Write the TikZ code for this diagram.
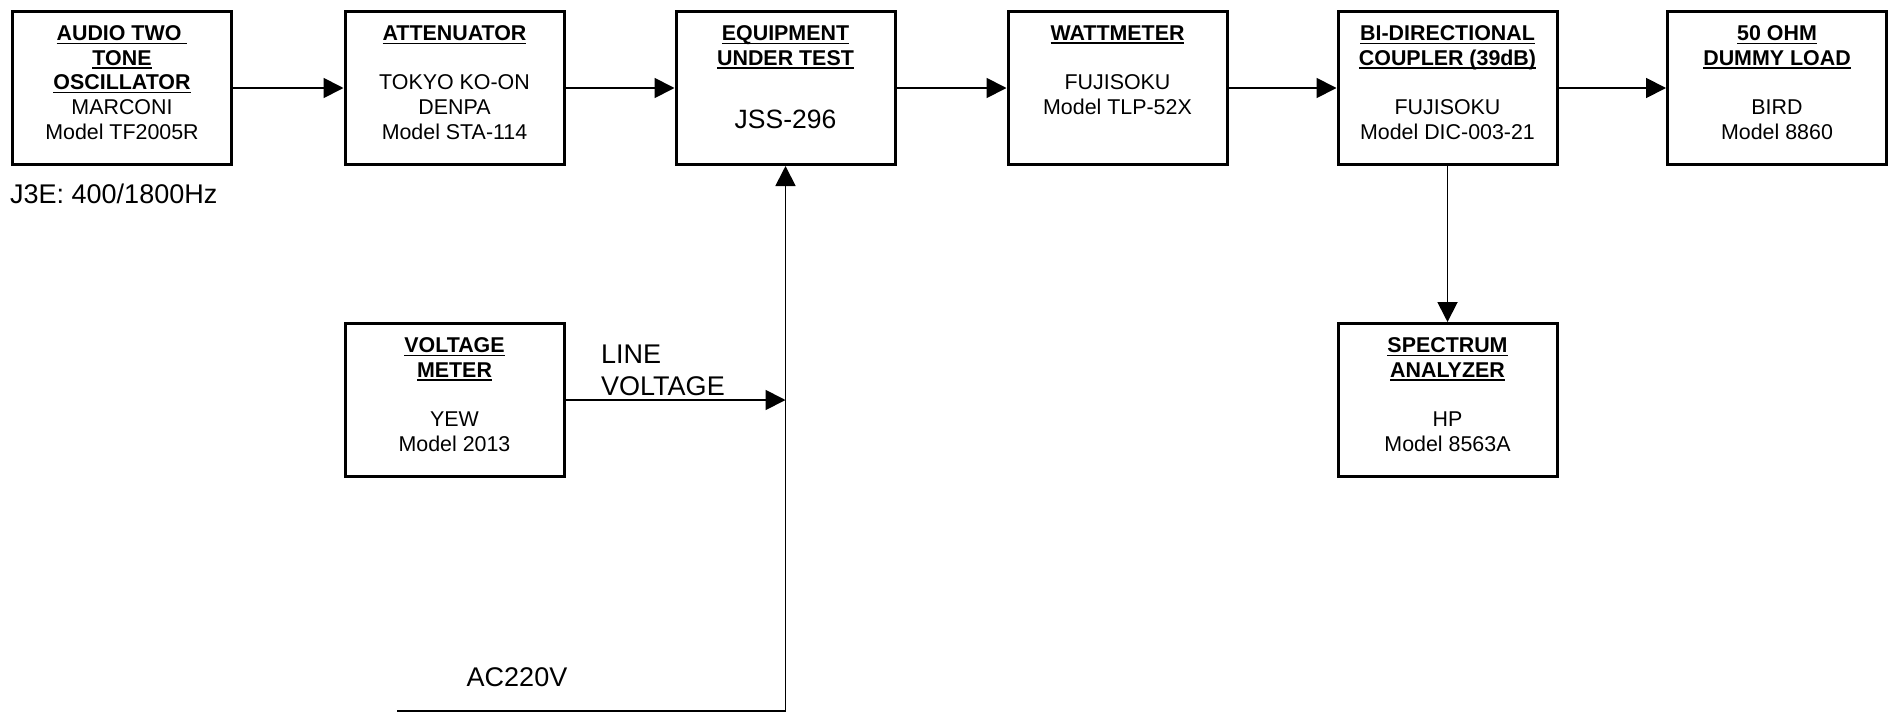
\documentclass[tikz,border=0pt]{standalone}
\usepackage{fontspec}
\setmainfont{Liberation Sans}
\usetikzlibrary{arrows.meta}
\newcommand{\ttl}[1]{\textbf{\setbox0=\hbox{#1}\rlap{\vrule width\wd0 height -2.2pt depth 3.6pt}\box0}}
\begin{document}
\begin{tikzpicture}[x=1pt,y=-1pt,
  box/.style={draw, line width=3pt, minimum width=219pt, minimum height=153pt, inner sep=0pt},
  btxt/.style={anchor=north, inner sep=0pt, align=center, font=\fontsize{21.4}{24.7}\selectfont},
  big/.style={inner sep=0pt, font=\fontsize{27}{32}\selectfont},
  conn/.style={line width=1.8pt, -{Triangle[length=20pt,width=20pt]}},
  wire/.style={line width=1.8pt}]
\fill[white] (0,0) rectangle (1889,712);
\useasboundingbox (0,0) rectangle (1889,712);
% boxes
\node[box] (osc) at (122,88) {};
\node[box] (att) at (454.5,88) {};
\node[box] (eut) at (785.5,88) {};
\node[box] (wat) at (1117.5,88) {};
\node[box] (cpl) at (1447.5,88) {};
\node[box] (dum) at (1777,88) {};
\node[box] (vm) at (454.5,400) {};
\node[box] (spa) at (1447.5,400) {};
% box texts
\node[btxt] (osct) at ([yshift=-15.3pt]osc.north) {\ttl{AUDIO TWO }\\\ttl{TONE}\\\ttl{OSCILLATOR}\\MARCONI\\Model TF2005R};
\node[btxt] (attt) at ([yshift=-15.3pt]att.north) {\ttl{ATTENUATOR}\\[24.7pt]TOKYO KO-ON\\DENPA\\Model STA-114};
\node[btxt] (eutt) at ([yshift=-15.3pt]eut.north) {\ttl{EQUIPMENT}\\\ttl{UNDER TEST}};
\node[inner sep=0pt, font=\fontsize{26.5}{30}\selectfont] (jss) at (785.5,119) {JSS-296};
\node[btxt] (watt) at ([yshift=-15.3pt]wat.north) {\ttl{WATTMETER}\\[24.7pt]FUJISOKU\\Model TLP-52X};
\node[btxt] (cplt) at ([yshift=-15.3pt]cpl.north) {\ttl{BI-DIRECTIONAL}\\\ttl{COUPLER (39dB)}\\[24.7pt]FUJISOKU\\Model DIC-003-21};
\node[btxt] (dumt) at ([yshift=-15.3pt]dum.north) {\ttl{50 OHM}\\\ttl{DUMMY LOAD}\\[24.7pt]BIRD\\Model 8860};
\node[btxt] (vmt) at ([yshift=-15.3pt]vm.north) {\ttl{VOLTAGE}\\\ttl{METER}\\[24.7pt]YEW\\Model 2013};
\node[btxt] (spat) at ([yshift=-15.3pt]spa.north) {\ttl{SPECTRUM}\\\ttl{ANALYZER}\\[24.7pt]HP\\Model 8563A};
% free labels
\node[big, anchor=base west] (j3e) at (10,203.7) {J3E: 400/1800Hz};
\node[big, anchor=north west, align=left] (lvl) at (601,344.3) {LINE\\VOLTAGE};
\node[big, anchor=base] (acl) at (517,686.7) {AC220V};
% connectors
\draw[conn] (osc.east) -- (att.west);
\draw[conn] (att.east) -- (eut.west);
\draw[conn] (eut.east) -- (wat.west);
\draw[conn] (wat.east) -- (cpl.west);
\draw[conn] (cpl.east) -- (dum.west);
\draw[conn] (cpl.south) -- (spa.north);
\coordinate (acL) at (397,711);
\coordinate (acR) at (785.5,711);
\coordinate (lv) at (785.5,400);
\draw[conn] (acL) -- (acR) -- (eut.south);
\draw[conn] (vm.east) -- (lv);
\end{tikzpicture}
\end{document}
